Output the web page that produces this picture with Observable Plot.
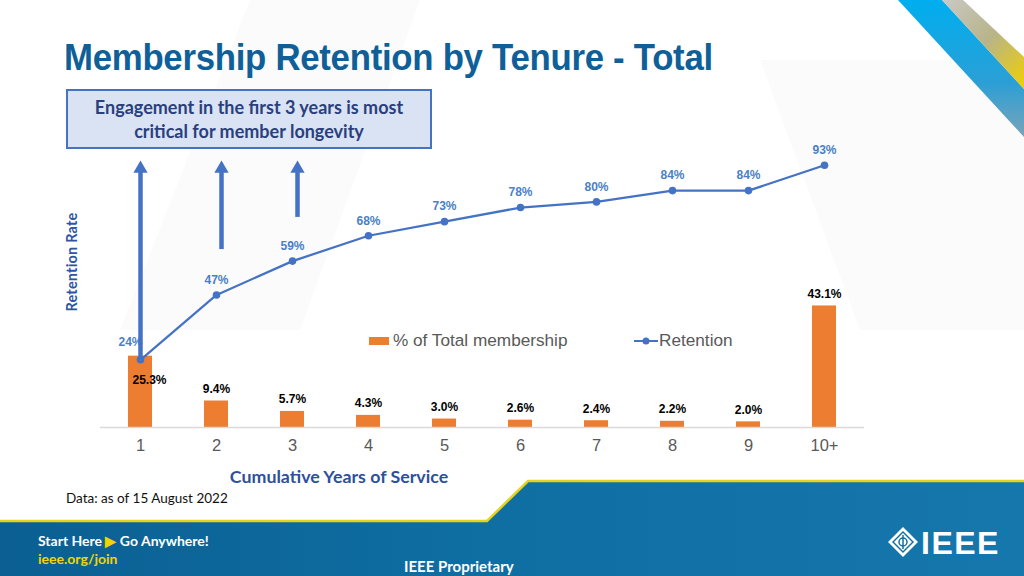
<!DOCTYPE html>
<html>
<head>
<meta charset="utf-8">
<script src="https://cdn.jsdelivr.net/npm/d3@7"></script>
<script src="https://cdn.jsdelivr.net/npm/@observablehq/plot@0.6"></script>
<style>
  html, body { margin: 0; padding: 0; background: #ffffff; }
  #page { position: relative; width: 1024px; height: 576px; overflow: hidden; background: #ffffff; font-family: "Liberation Sans", Arial, sans-serif; }
  #bg, #chart { position: absolute; left: 0; top: 0; }
  .abs { position: absolute; white-space: nowrap; }
  #title { left: 64px; top: 39px; font-size: 37px; line-height: 37px; font-weight: bold; color: #0f5f98; letter-spacing: -0.3px; transform: scaleX(0.94); transform-origin: left center; }
  #note { left: 66px; top: 89px; width: 366px; height: 60px; background: #dae3f3; border: 2px solid #4472c4; box-sizing: border-box;
          font-family: Lato, "Open Sans", sans-serif; font-weight: bold; font-size: 18px; color: #2a3f7e; text-align: center; line-height: 24px; padding-top: 4px; }
  #ytitle { left: 71px; top: 262px; transform: translate(-50%, -50%) rotate(-90deg); font-family: Lato, "Open Sans", sans-serif; font-weight: bold; font-size: 14.5px; letter-spacing: 0.2px; color: #2e55a3; }
  #xtitle { left: 339px; top: 476px; transform: translate(-50%, -50%); font-family: Lato, "Open Sans", sans-serif; font-weight: bold; font-size: 17.8px; color: #2e4f9c; }
  #datanote { left: 66px; top: 490px; font-family: Lato, "Open Sans", sans-serif; font-size: 13.5px; color: #111; }
  #legend1 { left: 369px; top: 330px; font-size: 17.2px; color: #595959; display: flex; align-items: center; }
  #legend2 { left: 634px; top: 330px; font-size: 17.2px; color: #595959; display: flex; align-items: center; }
  .swatch { display: inline-block; width: 20px; height: 8px; background: #ed7d31; margin-right: 4px; }
  #start { left: 38px; top: 532px; font-family: Lato, "Open Sans", sans-serif; font-weight: bold; font-size: 14px; color: #ffffff; }
  #join { left: 38px; top: 550px; font-family: Lato, "Open Sans", sans-serif; font-weight: bold; font-size: 14px; color: #f2d400; }
  #prop { left: 404px; top: 557px; font-family: Lato, "Open Sans", sans-serif; font-weight: bold; font-size: 15px; color: #ffffff; }
  #ieee { left: 921px; top: 525px; font-family: "Liberation Sans", Arial, sans-serif; font-weight: bold; font-size: 32px; color: #ffffff; letter-spacing: 1.5px; }
</style>
</head>
<body>
<div id="page">
  <svg id="bg" width="1024" height="576">
    <defs>
      <linearGradient id="blueStripe" x1="0" y1="0" x2="0" y2="1">
        <stop offset="0" stop-color="#00aeef"/>
        <stop offset="0.6" stop-color="#2a9fd6"/>
        <stop offset="1" stop-color="#7aa4b8"/>
      </linearGradient>
      <linearGradient id="goldStripe" x1="0" y1="0" x2="1" y2="1">
        <stop offset="0" stop-color="#c9c9c4"/>
        <stop offset="0.5" stop-color="#b8b48a"/>
        <stop offset="1" stop-color="#f0d000"/>
      </linearGradient>
      <linearGradient id="footer" x1="0" y1="0" x2="1" y2="0">
        <stop offset="0" stop-color="#0b5f92"/>
        <stop offset="0.5" stop-color="#0f6fa3"/>
        <stop offset="1" stop-color="#1677ad"/>
      </linearGradient>
    </defs>
    <polygon points="250,0 420,0 300,330 120,330" fill="#fbfbfb"/>
    <polygon points="760,60 1024,60 1024,330 860,330" fill="#fbfbfb"/>
    <polygon points="898,0 942,0 1024,89 1024,137" fill="url(#blueStripe)"/>
    <polygon points="942,0 963,0 1024,57 1024,89" fill="url(#goldStripe)"/>
    <polygon points="0,521 487,521 528,481 1024,481 1024,576 0,576" fill="url(#footer)"/>
    <polyline points="0,521 487,521 528,481 1024,481" fill="none" stroke="#e6d21c" stroke-width="2.5"/>
    <g transform="translate(903,542)">
      <polygon points="0,-15 15,0 0,15 -15,0" fill="#ffffff"/>
      <polygon points="0,-11 11,0 0,11 -11,0" fill="#0f6fa3"/>
      <polygon points="0,-9 9,0 0,9 -9,0" fill="#ffffff"/>
      <circle r="4" fill="none" stroke="#0f6fa3" stroke-width="1.5"/>
      <line x1="0" y1="-7" x2="0" y2="7" stroke="#0f6fa3" stroke-width="1.5"/>
    </g>
  </svg>
  <div id="chart"></div>
  <div class="abs" id="title">Membership Retention by Tenure - Total</div>
  <div class="abs" id="note">Engagement in the first 3 years is most<br>critical for member longevity</div>
  <div class="abs" id="ytitle">Retention Rate</div>
  <div class="abs" id="xtitle">Cumulative Years of Service</div>
  <div class="abs" id="datanote">Data: as of 15 August 2022</div>
  <div class="abs" id="legend1"><span class="swatch"></span>% of Total membership</div>
  <div class="abs" id="legend2"><svg width="24" height="10" style="margin-right:1px"><line x1="0" y1="5" x2="24" y2="5" stroke="#4472c4" stroke-width="2"/><circle cx="12" cy="5" r="3.5" fill="#4472c4"/></svg>Retention</div>
  <div class="abs" id="start">Start Here <span style="color:#f2d400">&#9654;</span> Go Anywhere!</div>
  <div class="abs" id="join">ieee.org/join</div>
  <div class="abs" id="prop">IEEE Proprietary</div>
  <div class="abs" id="ieee">IEEE</div>
</div>
<script>
const years = ["1", "2", "3", "4", "5", "6", "7", "8", "9", "10+"];
const shareOfMembership = [25.3, 9.4, 5.7, 4.3, 3.0, 2.6, 2.4, 2.2, 2.0, 43.1];
const retention = [24, 47, 59, 68, 73, 78, 80, 84, 84, 93];

const arrowYears = ["1", "2", "3"];
const arrowFrom = [24.8, 63.1, 74.5];
const arrowTo = [90.4, 90.4, 90.4];
const arrowHead = [91.8, 91.8, 91.8];

const data = years.map((year, i) => ({year, share: shareOfMembership[i], retention: retention[i]}));
const arrows = arrowYears.map((year, i) => ({year, from: arrowFrom[i], to: arrowTo[i], head: arrowHead[i]}));

const blue = "#4472c4";
const orange = "#ed7d31";

const chart = Plot.plot({
  width: 1024,
  height: 576,
  marginLeft: 100,
  marginRight: 160,
  marginTop: 145,
  marginBottom: 149,
  style: {background: "transparent", fontFamily: "'Liberation Sans', Arial, sans-serif", fontSize: "16.5px", color: "#595959"},
  x: {domain: years, paddingInner: 0.685, paddingOuter: 0.354, tickSize: 0, tickPadding: 12, label: null},
  y: {domain: [0, 100], axis: null},
  marks: [
    Plot.barY(data, {x: "year", y: "share", fill: orange}),
    Plot.ruleY([0], {stroke: "#d9d9d9", strokeWidth: 1.5}),
    Plot.line(data, {x: "year", y: "retention", stroke: blue, strokeWidth: 2.25}),
    Plot.dot(data, {x: "year", y: "retention", r: 3.8, fill: blue}),
    Plot.text(data.slice(1), {x: "year", y: "retention", text: d => d.retention + "%", dy: -15, fill: "#4a7fc6", fontWeight: "bold", fontSize: 12}),
    Plot.text(data.slice(0, 1), {x: "year", y: "retention", text: d => d.retention + "%", dx: -10, dy: -18, fill: "#4a7fc6", fontWeight: "bold", fontSize: 12}),
    Plot.text(data.slice(1), {x: "year", y: "share", text: d => d.share.toFixed(1) + "%", dy: -12, fill: "#000000", fontWeight: "bold", fontSize: 12}),
    Plot.text(data.slice(0, 1), {x: "year", y: "share", text: d => d.share.toFixed(1) + "%", dx: 9, dy: 24, fill: "#000000", fontWeight: "bold", fontSize: 12}),
    Plot.ruleX(arrows.slice(0, 1), {x: "year", y1: "from", y2: "to", stroke: blue, strokeWidth: 4.5}),
    Plot.ruleX(arrows.slice(1), {x: "year", y1: "from", y2: "to", stroke: blue, strokeWidth: 4.5, dx: 5}),
    Plot.dot(arrows.slice(0, 1), {x: "year", y: "head", symbol: "triangle", r: 5.3, fill: blue}),
    Plot.dot(arrows.slice(1), {x: "year", y: "head", symbol: "triangle", r: 5.3, fill: blue, dx: 5})
  ]
});
document.getElementById("chart").appendChild(chart);
</script>
</body>
</html>
